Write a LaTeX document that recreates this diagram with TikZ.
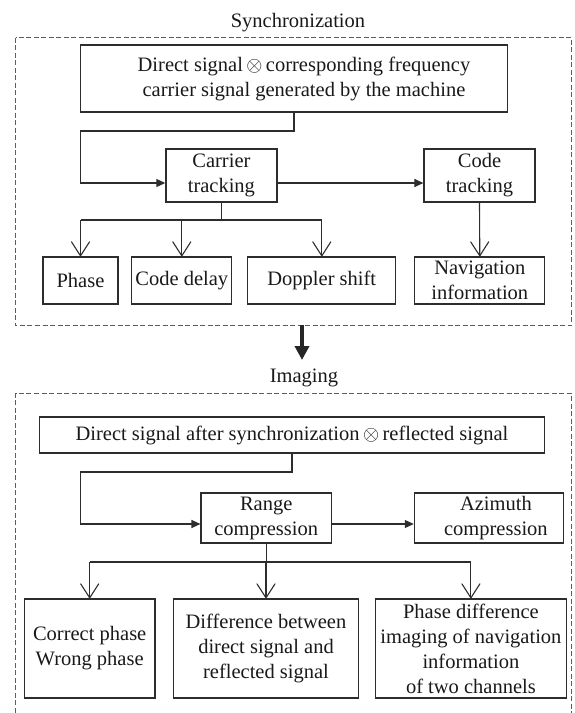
\documentclass[tikz,border=0pt]{standalone}
\usepackage{fontspec}
\setmainfont{Liberation Serif}
\usetikzlibrary{arrows.meta}
\definecolor{dashred}{RGB}{240,30,30}
\definecolor{boxline}{RGB}{45,45,45}
\begin{document}
\begin{tikzpicture}[x=1pt,y=-1pt,
  every node/.style={font=\fontsize{20.5}{25}\selectfont, text=black!90},
  box/.style={draw=boxline, line width=1.2pt, rectangle, inner sep=0pt, align=center},
  frame/.style={draw=dashred, line width=1.2pt, dash pattern=on 5pt off 2.5pt},
  conn/.style={draw=boxline, line width=1.1pt},
  tri/.style={conn, -{Triangle[length=9pt,width=8pt]}},
  barb/.style={conn, -{Straight Barb[length=14pt,width=18pt,line width=1.1pt,round]}},
  bigarrow/.style={draw=black!85, line width=4pt, -{Triangle[length=14pt,width=14pt]}}
]
\useasboundingbox (0,0) rectangle (574,713);

% titles
\node[anchor=base] (tsync) at (298,27) {Synchronization};
\node[anchor=base] (timg) at (304,382) {Imaging};

% frames
\draw[frame] (15.5,37.5) rectangle (571.5,325.5);
\draw[frame] (15.5,720) -- (15.5,393.5) -- (571.5,393.5) -- (571.5,720);

% synchronization boxes
\node[box, minimum width=427pt, minimum height=67pt] (direct) at (294,78.5)
  {\hspace*{20pt}Direct signal\,$\otimes$\,corresponding frequency\\\hspace*{20pt}carrier signal generated by the machine};
\node[box, minimum width=111pt, minimum height=53pt] (carrier) at (221.4,175.5) {Carrier\\tracking};
\node[box, minimum width=111pt, minimum height=53pt] (code) at (479.5,175.5) {Code\\tracking};
\node[box, minimum width=75pt, minimum height=47pt] (phase) at (80.5,280.5) {Phase};
\node[box, minimum width=100pt, minimum height=47pt] (delay) at (181.8,280.5) {Code delay};
\node[box, minimum width=148pt, minimum height=47pt] (doppler) at (321.8,280.5) {Doppler shift};
\node[box, minimum width=130pt, minimum height=47pt] (nav) at (479.8,280.5) {Navigation\\information};

% synchronization connectors
\coordinate (b1) at (80.5,131);
\coordinate (b2) at (80.5,183);
\draw[tri] (direct.south) |- (b1) -- (b2) -- (b2 -| carrier.west);
\draw[tri] (b2 -| carrier.east) -- (b2 -| code.west);
\coordinate (hb) at (0,220);
\draw[conn] (carrier.south) -- (carrier.south |- hb);
\draw[conn] (phase.north |- hb) -- (doppler.north |- hb);
\draw[barb] (phase.north |- hb) -- (phase.north);
\draw[barb] (delay.north |- hb) -- (delay.north);
\draw[barb] (doppler.north |- hb) -- (doppler.north);
\draw[barb] (code.south) -- (nav.north);

% big arrow
\coordinate (s1) at (302,325);
\coordinate (s2) at (302,360);
\draw[bigarrow] (s1) -- (s2);

% imaging boxes
\node[box, minimum width=505.5pt, minimum height=36pt] (after) at (292,435)
  {Direct signal after synchronization\,$\otimes$\,reflected signal};
\node[box, minimum width=130.3pt, minimum height=50pt] (range) at (266.2,518) {Range\\compression};
\node[box, minimum width=149pt, minimum height=50pt] (azi) at (488.9,518) {\hspace*{14pt}Azimuth\\\hspace*{14pt}compression};
\node[box, minimum width=130.4pt, minimum height=99pt] (correct) at (89.7,648.5) {Correct phase\\Wrong phase};
\node[box, minimum width=185.6pt, minimum height=99pt] (diff) at (266,648.5) {Difference between\\direct signal and\\reflected signal};
\node[box, minimum width=191pt, minimum height=99pt] (pdiff) at (470.9,648.5) {Phase difference\\imaging of navigation\\information\\of two channels};

% imaging connectors
\coordinate (c1) at (80.5,472);
\coordinate (c2) at (80.5,524);
\draw[tri] (after.south) |- (c1) -- (c2) -- (c2 -| range.west);
\draw[tri] (c2 -| range.east) -- (c2 -| azi.west);
\coordinate (hc) at (0,562);
\draw[conn] (range.south) -- (range.south |- hc);
\draw[conn] (correct.north |- hc) -- (pdiff.north |- hc);
\draw[barb] (correct.north |- hc) -- (correct.north);
\draw[barb] (diff.north |- hc) -- (diff.north);
\draw[barb] (pdiff.north |- hc) -- (pdiff.north);
\end{tikzpicture}
\end{document}
